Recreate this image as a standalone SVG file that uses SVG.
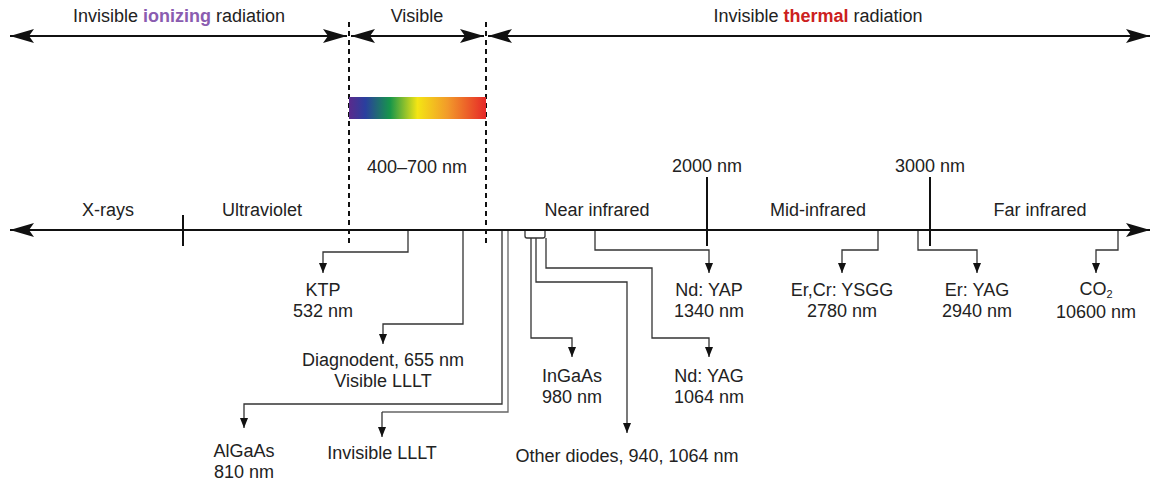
<svg xmlns="http://www.w3.org/2000/svg" width="1153" height="492" viewBox="0 0 1153 492">
<defs>
<linearGradient id="spec" x1="0" y1="0" x2="1" y2="0">
<stop offset="0" stop-color="#5a2a8c"/>
<stop offset="0.12" stop-color="#2a3f9e"/>
<stop offset="0.3" stop-color="#17964a"/>
<stop offset="0.5" stop-color="#f4e514"/>
<stop offset="0.72" stop-color="#f29a2a"/>
<stop offset="1" stop-color="#e62828"/>
</linearGradient>
<marker id="big" viewBox="0 0 24 14" refX="24" refY="7" markerWidth="24" markerHeight="14" markerUnits="userSpaceOnUse" orient="auto-start-reverse">
<path d="M0,0 L24,7 L0,14 L5,7 z" fill="#111"/>
</marker>
<marker id="sm" viewBox="0 0 10 8" refX="10" refY="4" markerWidth="11" markerHeight="8" markerUnits="userSpaceOnUse" orient="auto">
<path d="M0,0 L10,4 L0,8 z" fill="#111"/>
</marker>
<style>
text{font-family:"Liberation Sans",Arial,sans-serif;font-size:18px;fill:#222;text-anchor:middle}
.ax{stroke:#111;stroke-width:2.2;fill:none}
.tk{stroke:#111;stroke-width:2;fill:none}
.dash{stroke:#111;stroke-width:2;stroke-dasharray:5,4;fill:none}
.c{stroke:#333;stroke-width:1.3;fill:none}
.cg{stroke:#666;stroke-width:1.3;fill:none}
.ca{stroke:#333;stroke-width:1.3;fill:none;marker-end:url(#sm)}
</style>
</defs>

<g id="bands">
<text x="179" y="22">Invisible <tspan fill="#8a5cb0" font-weight="bold">ionizing</tspan> radiation</text>
<text x="417" y="22">Visible</text>
<text x="818" y="22">Invisible <tspan fill="#cc2020" font-weight="bold">thermal</tspan> radiation</text>
<line class="ax" x1="10" y1="36" x2="347" y2="36" marker-start="url(#big)" marker-end="url(#big)"/>
<line class="ax" x1="351" y1="36" x2="484" y2="36" marker-start="url(#big)" marker-end="url(#big)"/>
<line class="ax" x1="488" y1="36" x2="1150" y2="36" marker-start="url(#big)" marker-end="url(#big)"/>
<line class="dash" x1="349" y1="22" x2="349" y2="246"/>
<line class="dash" x1="486" y1="22" x2="486" y2="246"/>
<rect x="349" y="97" width="137" height="22" fill="url(#spec)"/>
<text x="417" y="173">400–700 nm</text>
</g>

<g id="axis">
<line class="ax" x1="10" y1="230" x2="1150" y2="230" marker-start="url(#big)" marker-end="url(#big)"/>
<line class="tk" x1="183" y1="215" x2="183" y2="246"/>
<line class="tk" x1="707" y1="177" x2="707" y2="246"/>
<line class="tk" x1="930" y1="177" x2="930" y2="246"/>
<text x="707" y="172">2000 nm</text>
<text x="930" y="172">3000 nm</text>
<text x="108" y="216">X-rays</text>
<text x="262" y="216">Ultraviolet</text>
<text x="597" y="216">Near infrared</text>
<text x="818" y="216">Mid-infrared</text>
<text x="1040" y="216">Far infrared</text>
</g>

<g id="connectors">
<path class="ca" d="M408,231 V252 H323 V273"/>
<path class="ca" d="M463,231 V324 H383 V344"/>
<path class="ca" d="M502,231 V404 H244 V428"/>
<path class="cg" d="M508,231 V412 H382"/>
<path class="ca" d="M382,412 V437"/>
<path class="c" d="M525,231 V236 Q525,238 527,238 H543 Q545,238 545,236 V231"/>
<path class="ca" d="M531,238 V338 H572 V357"/>
<path class="ca" d="M536,238 V282 H627 V433"/>
<path class="ca" d="M546,238 V268 H652 V338 H709 V357"/>
<path class="ca" d="M595,231 V250 H709 V273"/>
<path class="ca" d="M878,231 V250 H842 V273"/>
<path class="ca" d="M918,231 V250 H977 V273"/>
<path class="ca" d="M1118,231 V250 H1096 V273"/>
</g>

<g id="ktp"><text x="323" y="296">KTP</text><text x="323" y="317">532 nm</text></g>
<g id="diagnodent"><text x="383" y="366">Diagnodent, 655 nm</text><text x="383" y="387">Visible LLLT</text></g>
<g id="algaas"><text x="244" y="457">AlGaAs</text><text x="244" y="478">810 nm</text></g>
<g id="invisible-lllt"><text x="382" y="459">Invisible LLLT</text></g>
<g id="ingaas"><text x="572" y="382">InGaAs</text><text x="572" y="403">980 nm</text></g>
<g id="other-diodes"><text x="627" y="462">Other diodes, 940, 1064 nm</text></g>
<g id="ndyag"><text x="709" y="382">Nd: YAG</text><text x="709" y="403">1064 nm</text></g>
<g id="ndyap"><text x="709" y="296">Nd: YAP</text><text x="709" y="317">1340 nm</text></g>
<g id="ercr"><text x="842" y="296">Er,Cr: YSGG</text><text x="842" y="317">2780 nm</text></g>
<g id="eryag"><text x="977" y="296">Er: YAG</text><text x="977" y="317">2940 nm</text></g>
<g id="co2"><text x="1096" y="295">CO<tspan font-size="11" dy="3">2</tspan></text><text x="1096" y="318">10600 nm</text></g>
</svg>
